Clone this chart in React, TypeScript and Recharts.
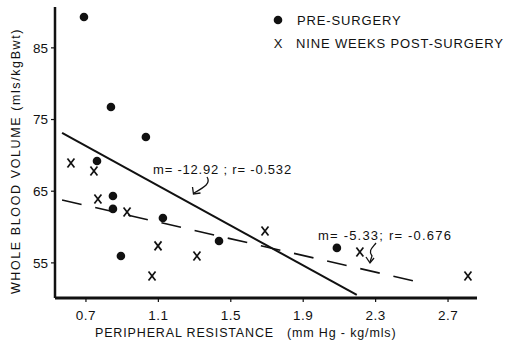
import { ComposedChart, Scatter, XAxis, YAxis, Customized } from 'recharts'

// tick labels
const xTicks = [0.7, 1.1, 1.5, 1.9, 2.3, 2.7]
const yTicks = [55, 65, 75, 85]

// pre-surgery (filled dots)
const preX = [0.689, 0.838, 1.031, 0.761, 0.849, 0.849, 1.125, 0.893, 1.435, 2.086]
const preY = [89.3, 76.75, 72.57, 69.22, 64.34, 62.53, 61.27, 55.97, 58.06, 57.09]

// nine weeks post-surgery (crosses)
const postX = [0.617, 0.744, 0.766, 0.927, 1.098, 1.065, 1.313, 1.689, 2.213, 2.81]
const postY = [68.94, 67.83, 63.92, 62.11, 57.37, 53.18, 55.97, 59.46, 56.53, 53.18]

// regression lines, end points as drawn
const preFitX = [0.568, 2.196]
const preFitY = [73.13, 50.53]
const postFitX = [0.568, 2.533]
const postFitY = [63.78, 52.35]

const zip = (xs: number[], ys: number[]) => xs.map((x, i) => ({ x, y: ys[i] }))

const pre = zip(preX, preY)
const post = zip(postX, postY)
const preFit = zip(preFitX, preFitY)
const postFit = zip(postFitX, postFitY)

const FONT = '"Liberation Sans", Arial, sans-serif'
const INK = '#111'

const Dot = (p: any) => <circle cx={p.cx} cy={p.cy} r={4.3} fill={INK} />

const Cross = (p: any) => (
  <g stroke={INK} strokeWidth={1.7}>
    <line x1={p.cx - 3.5} y1={p.cy - 4.5} x2={p.cx + 3.5} y2={p.cy + 4.5} />
    <line x1={p.cx + 3.5} y1={p.cy - 4.5} x2={p.cx - 3.5} y2={p.cy + 4.5} />
  </g>
)

const NoMark = () => <g />

function Overlay() {
  const txt = { fontFamily: FONT, fill: INK }
  return (
    <g>
      {/* legend */}
      <circle cx={278} cy={20} r={4.3} fill={INK} />
      <text x={297} y={24.5} fontSize={13} letterSpacing={0.85} {...txt}>PRE-SURGERY</text>
      <text x={278} y={48} fontSize={13} textAnchor="middle" {...txt}>X</text>
      <text x={296} y={48} fontSize={13} letterSpacing={0.85} {...txt}>NINE WEEKS POST-SURGERY</text>

      {/* annotations */}
      <text x={153} y={174} fontSize={13} letterSpacing={0.8} {...txt}>m= -12.92 ; r= -0.532</text>
      <path d="M207 177 C211 183, 205 187, 194 193" fill="none" stroke={INK} strokeWidth={1.3} />
      <path d="M192.5 187 L193.5 194 L200.5 193" fill="none" stroke={INK} strokeWidth={1.3} />

      <text x={318} y={240} fontSize={13} letterSpacing={1.2} {...txt}>m= -5.33; r= -0.676</text>
      <path d="M376 243 C372 248, 368 251, 372 256 L370 262" fill="none" stroke={INK} strokeWidth={1.3} />
      <path d="M366 257 L370 263 L374 258" fill="none" stroke={INK} strokeWidth={1.3} />

      {/* axis titles */}
      <text x={95} y={337} fontSize={12.5} letterSpacing={0.85} {...txt}>
        {'PERIPHERAL RESISTANCE\u00a0\u00a0\u00a0(mm Hg - kg/mls)'}
      </text>
      <text
        transform="translate(19.5 161) rotate(-90)"
        textAnchor="middle"
        fontSize={12.5}
        letterSpacing={1.6}
        {...txt}
      >
        WHOLE BLOOD VOLUME (mls/kgBwt)
      </text>
    </g>
  )
}

export default function App() {
  return (
    <div style={{ position: 'absolute', left: 0, top: 0, width: 505, height: 343, background: '#fff' }}>
      <ComposedChart width={505} height={343} margin={{ top: 7, right: 28, bottom: 10, left: 10 }}>
        <XAxis
          type="number"
          dataKey="x"
          domain={[0.529, 2.86]}
          ticks={xTicks}
          tickFormatter={(v: number) => v.toFixed(1)}
          allowDataOverflow
          height={35}
          axisLine={{ stroke: INK, strokeWidth: 3 }}
          tickLine={{ stroke: INK, strokeWidth: 1.2 }}
          tickSize={4}
          tickMargin={8}
          tick={{ fill: INK, fontSize: 13.5, fontFamily: FONT, letterSpacing: 0.5 }}
        />
        <YAxis
          type="number"
          dataKey="y"
          domain={[50.1, 90.7]}
          ticks={yTicks}
          allowDataOverflow
          width={45}
          axisLine={{ stroke: INK, strokeWidth: 2.5 }}
          tickLine={{ stroke: INK, strokeWidth: 1.2 }}
          tickSize={4}
          tickMargin={3}
          tick={{ fill: INK, fontSize: 13.5, fontFamily: FONT }}
        />
        <Scatter data={preFit} line={{ stroke: INK, strokeWidth: 2 }} shape={NoMark} isAnimationActive={false} />
        <Scatter
          data={postFit}
          line={{ stroke: INK, strokeWidth: 1.6, strokeDasharray: '20 14' }}
          shape={NoMark}
          isAnimationActive={false}
        />
        <Scatter data={pre} shape={Dot} isAnimationActive={false} />
        <Scatter data={post} shape={Cross} isAnimationActive={false} />
        <Customized component={Overlay} />
      </ComposedChart>
    </div>
  )
}
